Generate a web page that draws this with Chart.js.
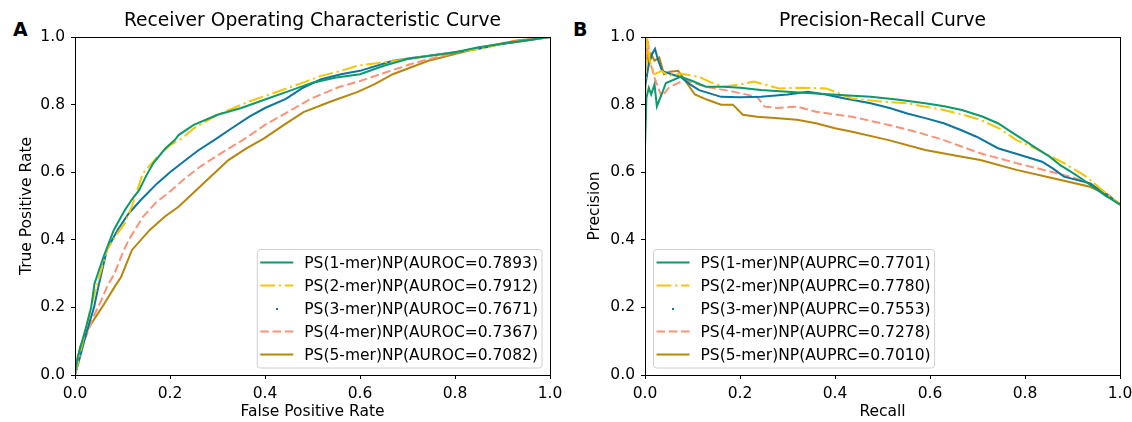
<!DOCTYPE html>
<html>
<head>
<meta charset="utf-8">
<script src="https://cdn.jsdelivr.net/npm/chart.js@4.4.1/dist/chart.umd.min.js"></script>
<style>
  html, body { margin: 0; padding: 0; background: #fff; }
  body { width: 1132px; height: 422px; position: relative; overflow: hidden; font-family: "DejaVu Sans", sans-serif; }
  .panel { position: absolute; top: 0; height: 422px; }
  #rocWrap { left: 0; width: 566px; }
  #prWrap { left: 570px; width: 562px; }
  .tag { position: absolute; font-weight: bold; font-size: 19px; line-height: 20px; color: #000; }
</style>
</head>
<body>
<div class="tag" style="left:13px; top:19px;">A</div>
<div class="tag" style="left:573px; top:19px;">B</div>
<div class="panel" id="rocWrap"><canvas id="rocChart" width="566" height="422"></canvas></div>
<div class="panel" id="prWrap"><canvas id="prChart" width="562" height="422"></canvas></div>
<script>
// ---- data ----
const rocLabels = [
    'PS(1-mer)NP(AUROC=0.7893)',
    'PS(2-mer)NP(AUROC=0.7912)',
    'PS(3-mer)NP(AUROC=0.7671)',
    'PS(4-mer)NP(AUROC=0.7367)',
    'PS(5-mer)NP(AUROC=0.7082)'
];
const prLabels = [
    'PS(1-mer)NP(AUPRC=0.7701)',
    'PS(2-mer)NP(AUPRC=0.7780)',
    'PS(3-mer)NP(AUPRC=0.7553)',
    'PS(4-mer)NP(AUPRC=0.7278)',
    'PS(5-mer)NP(AUPRC=0.7010)'
];
const tickValues = [0, 0.2, 0.4, 0.6, 0.8, 1.0];

// ROC: false positive rate / true positive rate
const rocFpr1 = [0, 0.005, 0.015, 0.025, 0.034, 0.041, 0.06, 0.082, 0.105, 0.12, 0.135, 0.15, 0.165, 0.19, 0.21, 0.218, 0.25, 0.30, 0.35, 0.40, 0.45, 0.50, 0.55, 0.60, 0.65, 0.70, 0.75, 0.80, 0.85, 0.90, 0.95, 1.0];
const rocTpr1 = [0, 0.05, 0.10, 0.15, 0.20, 0.27, 0.35, 0.43, 0.488, 0.52, 0.547, 0.59, 0.627, 0.67, 0.695, 0.71, 0.74, 0.77, 0.79, 0.815, 0.84, 0.865, 0.88, 0.89, 0.915, 0.935, 0.945, 0.955, 0.97, 0.98, 0.99, 1.0];
const rocFpr2 = [0, 0.01, 0.02, 0.03, 0.045, 0.067, 0.09, 0.105, 0.12, 0.143, 0.17, 0.20, 0.225, 0.25, 0.30, 0.368, 0.42, 0.47, 0.518, 0.56, 0.594, 0.65, 0.70, 0.75, 0.80, 0.85, 0.90, 0.95, 1.0];
const rocTpr2 = [0, 0.06, 0.12, 0.18, 0.26, 0.37, 0.42, 0.45, 0.50, 0.597, 0.64, 0.68, 0.70, 0.73, 0.77, 0.81, 0.835, 0.86, 0.885, 0.90, 0.915, 0.925, 0.935, 0.945, 0.955, 0.965, 0.98, 0.99, 1.0];
const rocFpr3 = [0, 0.01, 0.025, 0.04, 0.049, 0.067, 0.09, 0.113, 0.14, 0.173, 0.20, 0.233, 0.26, 0.293, 0.33, 0.368, 0.40, 0.444, 0.48, 0.518, 0.56, 0.60, 0.669, 0.72, 0.80, 0.85, 0.90, 0.95, 1.0];
const rocTpr3 = [0, 0.05, 0.13, 0.20, 0.26, 0.37, 0.43, 0.478, 0.52, 0.567, 0.60, 0.636, 0.665, 0.695, 0.73, 0.765, 0.79, 0.817, 0.85, 0.875, 0.89, 0.90, 0.93, 0.94, 0.955, 0.965, 0.98, 0.99, 1.0];
const rocFpr4 = [0, 0.011, 0.025, 0.038, 0.055, 0.067, 0.083, 0.10, 0.113, 0.143, 0.17, 0.195, 0.23, 0.263, 0.30, 0.353, 0.40, 0.444, 0.50, 0.556, 0.60, 0.632, 0.707, 0.76, 0.82, 0.88, 0.94, 1.0];
const rocTpr4 = [0, 0.07, 0.12, 0.17, 0.22, 0.26, 0.30, 0.36, 0.40, 0.468, 0.51, 0.537, 0.58, 0.616, 0.65, 0.695, 0.74, 0.775, 0.82, 0.852, 0.87, 0.885, 0.92, 0.94, 0.96, 0.975, 0.99, 1.0];
const rocFpr5 = [0, 0.004, 0.011, 0.02, 0.03, 0.045, 0.06, 0.083, 0.097, 0.12, 0.158, 0.19, 0.218, 0.25, 0.278, 0.323, 0.36, 0.398, 0.44, 0.481, 0.54, 0.594, 0.63, 0.669, 0.744, 0.80, 0.857, 0.93, 1.0];
const rocTpr5 = [0, 0.035, 0.084, 0.115, 0.143, 0.175, 0.207, 0.26, 0.29, 0.37, 0.43, 0.47, 0.498, 0.54, 0.577, 0.636, 0.67, 0.70, 0.74, 0.778, 0.81, 0.837, 0.86, 0.89, 0.93, 0.95, 0.97, 0.99, 1.0];

// PR: recall / precision
const prRec1 = [0, 0.003, 0.008, 0.013, 0.02, 0.025, 0.035, 0.044, 0.075, 0.10, 0.128, 0.166, 0.20, 0.244, 0.30, 0.36, 0.42, 0.475, 0.53, 0.59, 0.63, 0.667, 0.71, 0.743, 0.77, 0.798, 0.825, 0.852, 0.875, 0.898, 0.92, 0.943, 0.97, 1.0];
const prPre1 = [0.67, 0.82, 0.85, 0.83, 0.86, 0.795, 0.83, 0.864, 0.882, 0.87, 0.853, 0.853, 0.85, 0.843, 0.838, 0.833, 0.828, 0.823, 0.815, 0.804, 0.795, 0.784, 0.765, 0.745, 0.72, 0.695, 0.67, 0.646, 0.62, 0.60, 0.58, 0.557, 0.53, 0.505];
const prRec2 = [0, 0.004, 0.01, 0.02, 0.035, 0.05, 0.075, 0.114, 0.14, 0.166, 0.20, 0.229, 0.282, 0.33, 0.382, 0.436, 0.49, 0.552, 0.629, 0.67, 0.706, 0.745, 0.782, 0.821, 0.85, 0.882, 0.929, 0.96, 1.0];
const prPre2 = [0.82, 1.0, 0.93, 0.89, 0.90, 0.885, 0.892, 0.882, 0.865, 0.853, 0.86, 0.868, 0.848, 0.85, 0.848, 0.818, 0.81, 0.804, 0.784, 0.77, 0.755, 0.73, 0.695, 0.671, 0.65, 0.627, 0.587, 0.55, 0.505];
const prRec3 = [0, 0.008, 0.015, 0.021, 0.028, 0.036, 0.055, 0.075, 0.095, 0.114, 0.16, 0.20, 0.244, 0.30, 0.343, 0.38, 0.421, 0.475, 0.515, 0.552, 0.59, 0.629, 0.665, 0.698, 0.743, 0.79, 0.836, 0.86, 0.882, 0.937, 0.97, 1.0];
const prPre3 = [0.85, 0.92, 0.95, 0.965, 0.93, 0.90, 0.89, 0.882, 0.86, 0.843, 0.823, 0.822, 0.823, 0.83, 0.838, 0.83, 0.818, 0.804, 0.79, 0.774, 0.76, 0.745, 0.725, 0.705, 0.671, 0.651, 0.631, 0.61, 0.587, 0.567, 0.535, 0.505];
const prRec4 = [0, 0.005, 0.012, 0.02, 0.035, 0.05, 0.082, 0.128, 0.18, 0.236, 0.252, 0.28, 0.32, 0.36, 0.436, 0.513, 0.57, 0.629, 0.706, 0.782, 0.859, 0.90, 0.937, 0.97, 1.0];
const prPre4 = [0.83, 1.0, 0.92, 0.88, 0.823, 0.85, 0.873, 0.853, 0.84, 0.823, 0.794, 0.79, 0.794, 0.779, 0.764, 0.74, 0.72, 0.695, 0.656, 0.627, 0.60, 0.585, 0.567, 0.54, 0.505];
const prRec5 = [0, 0.003, 0.008, 0.013, 0.02, 0.03, 0.04, 0.052, 0.07, 0.085, 0.105, 0.13, 0.16, 0.185, 0.206, 0.236, 0.28, 0.32, 0.36, 0.40, 0.436, 0.513, 0.59, 0.65, 0.706, 0.782, 0.859, 0.937, 0.97, 1.0];
const prPre5 = [0.83, 0.97, 0.92, 0.95, 0.93, 0.94, 0.89, 0.897, 0.90, 0.87, 0.83, 0.815, 0.80, 0.80, 0.77, 0.764, 0.76, 0.755, 0.745, 0.73, 0.72, 0.695, 0.666, 0.65, 0.636, 0.607, 0.582, 0.557, 0.535, 0.503];

// ---- styles ----
const FONT = '"DejaVu Sans", sans-serif';
const seriesStyles = [
    { color: '#0b9a6c', dash: [] },
    { color: '#f7c600', dash: [14.9, 3.7, 2.3, 3.7] },
    { color: '#0c76a0', dash: [], dot: true },
    { color: '#fa9377', dash: [8.6, 3.7] },
    { color: '#b8860b', dash: [] }
];

function toPoints(xs, ys) {
    return xs.map((x, i) => ({ x: x, y: ys[i] }));
}

function buildDatasets(labels, xsList, ysList) {
    return labels.map((label, i) => ({
        label: label,
        data: toPoints(xsList[i], ysList[i]),
        borderColor: seriesStyles[i].color,
        borderDash: seriesStyles[i].dash,
        borderWidth: 2,
        pointRadius: 0,
        showLine: true,
        fill: false,
        tension: 0,
        isDot: !!seriesStyles[i].dot
    }));
}

// frame (top/right spines) + matplotlib-like legend box inside the axes
const framePlugin = {
    id: 'frameAndLegend',
    afterDatasetsDraw(chart, args, opts) {
        const { ctx, chartArea: a } = chart;
        ctx.save();
        ctx.strokeStyle = '#000';
        ctx.lineWidth = 1;
        ctx.setLineDash([]);
        ctx.strokeRect(Math.round(a.left) + 0.5, Math.round(a.top) + 0.5, Math.round(a.right - a.left), Math.round(a.bottom - a.top));

        const fs = 15.5;
        ctx.font = fs + 'px ' + FONT;
        const items = chart.data.datasets;
        const textW = Math.max(...items.map(d => ctx.measureText(d.label).width));
        const padL = 3.5, handleLen = 33, gap = 11, padR = 4;
        const rowH = 23;
        const boxW = padL + handleLen + gap + textW + padR;
        const boxH = items.length * rowH + 4;
        const boxBottom = a.bottom - 7;
        const boxTop = boxBottom - boxH;
        const boxLeft = opts.corner === 'left' ? a.left + 8 : a.right - 8 - boxW;

        // rounded box
        const r = 3;
        ctx.beginPath();
        ctx.moveTo(boxLeft + r, boxTop + 0.5);
        ctx.arcTo(boxLeft + boxW, boxTop + 0.5, boxLeft + boxW, boxBottom, r);
        ctx.arcTo(boxLeft + boxW, boxBottom, boxLeft, boxBottom, r);
        ctx.arcTo(boxLeft + 0.5, boxBottom, boxLeft + 0.5, boxTop, r);
        ctx.arcTo(boxLeft + 0.5, boxTop + 0.5, boxLeft + boxW, boxTop + 0.5, r);
        ctx.closePath();
        ctx.fillStyle = 'rgba(255,255,255,0.8)';
        ctx.fill();
        ctx.strokeStyle = '#d0d0d0';
        ctx.stroke();

        items.forEach((d, i) => {
            const cy = boxTop + 2 + rowH * (i + 0.5);
            const hx = boxLeft + padL;
            if (d.isDot) {
                ctx.fillStyle = d.borderColor;
                ctx.fillRect(Math.round(hx + handleLen / 2) - 1, Math.round(cy) - 1, 2, 2);
            } else {
                ctx.strokeStyle = d.borderColor;
                ctx.lineWidth = 2.2;
                ctx.setLineDash(d.borderDash || []);
                ctx.beginPath();
                ctx.moveTo(hx, cy);
                ctx.lineTo(hx + handleLen, cy);
                ctx.stroke();
                ctx.setLineDash([]);
            }
            ctx.fillStyle = '#000';
            ctx.textBaseline = 'middle';
            ctx.textAlign = 'left';
            ctx.fillText(d.label, hx + handleLen + gap, cy + 1);
        });
        ctx.restore();
    }
};

function axisOptions(titleText, isY, titlePad) {
    return {
        type: 'linear',
        min: 0,
        max: 1,
        afterBuildTicks: (scale) => { scale.ticks = tickValues.map(v => ({ value: v })); },
        afterFit: (scale) => {
            if (isY) {
                scale.width = 75;
                scale.paddingTop = 0;
                scale.paddingBottom = 0;
            } else {
                scale.height = 47;
                scale.paddingLeft = 0;
                scale.paddingRight = 0;
            }
        },
        ticks: {
            color: '#000',
            font: { family: FONT, size: 15.5 },
            padding: 6,
            maxRotation: 0,
            callback: (v) => Number(v).toFixed(1)
        },
        grid: {
            drawOnChartArea: false,
            drawTicks: true,
            tickLength: 4,
            tickColor: '#000',
            tickWidth: 1
        },
        border: { display: true, color: '#000', width: 1 },
        title: {
            display: true,
            text: titleText,
            color: '#000',
            font: { family: FONT, size: 15.5 },
            padding: titlePad
        }
    };
}

function makeChart(canvasId, title, xTitle, yTitle, datasets, corner, rightPad, yTitlePad) {
    return new Chart(document.getElementById(canvasId), {
        type: 'scatter',
        data: { datasets: datasets },
        options: {
            responsive: false,
            animation: false,
            layout: { padding: { left: 0, right: rightPad, top: 0, bottom: 0 } },
            plugins: {
                legend: { display: false },
                tooltip: { enabled: false },
                title: {
                    display: true,
                    text: title,
                    fullSize: false,
                    color: '#000',
                    font: { family: FONT, size: 18.7, weight: 'normal' },
                    padding: { top: 10, bottom: 4.6 }
                },
                frameAndLegend: { corner: corner }
            },
            scales: {
                x: axisOptions(xTitle, false, { top: 0, bottom: 1 }),
                y: axisOptions(yTitle, true, { top: yTitlePad, bottom: 0 })
            }
        },
        plugins: [framePlugin]
    });
}

makeChart('rocChart', 'Receiver Operating Characteristic Curve', 'False Positive Rate', 'True Positive Rate',
    buildDatasets(rocLabels, [rocFpr1, rocFpr2, rocFpr3, rocFpr4, rocFpr5], [rocTpr1, rocTpr2, rocTpr3, rocTpr4, rocTpr5]),
    'right', 16, 17.2);

makeChart('prChart', 'Precision-Recall Curve', 'Recall', 'Precision',
    buildDatasets(prLabels, [prRec1, prRec2, prRec3, prRec4, prRec5], [prPre1, prPre2, prPre3, prPre4, prPre5]),
    'left', 12, 15.7);
</script>
</body>
</html>
